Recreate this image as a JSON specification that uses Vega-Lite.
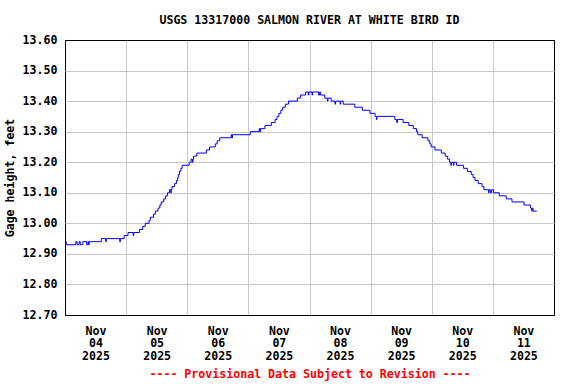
{
  "$schema": "https://vega.github.io/schema/vega-lite/v6.json",
  "width": 489,
  "height": 275,
  "autosize": {"type": "none"},
  "padding": {"left": 65, "top": 40, "right": 22, "bottom": 69},
  "background": "white",
  "config": {
    "font": "DejaVu Sans Mono",
    "view": {"stroke": "black", "strokeWidth": 1}
  },
  "title": {
    "text": "USGS 13317000 SALMON RIVER AT WHITE BIRD ID",
    "font": "DejaVu Sans Mono",
    "fontSize": 11.6,
    "fontWeight": "bold",
    "color": "black",
    "anchor": "middle",
    "frame": "group",
    "baseline": "alphabetic",
    "offset": -2
  },
  "data": {
    "values": [
      {"t": "2025-11-04T00:00", "v": 12.94},
      {"t": "2025-11-04T00:30", "v": 12.93},
      {"t": "2025-11-04T04:15", "v": 12.94},
      {"t": "2025-11-04T04:45", "v": 12.93},
      {"t": "2025-11-04T05:30", "v": 12.94},
      {"t": "2025-11-04T06:00", "v": 12.93},
      {"t": "2025-11-04T07:00", "v": 12.94},
      {"t": "2025-11-04T08:30", "v": 12.93},
      {"t": "2025-11-04T09:00", "v": 12.94},
      {"t": "2025-11-04T09:15", "v": 12.93},
      {"t": "2025-11-04T09:30", "v": 12.94},
      {"t": "2025-11-04T14:15", "v": 12.95},
      {"t": "2025-11-04T16:00", "v": 12.94},
      {"t": "2025-11-04T16:15", "v": 12.95},
      {"t": "2025-11-04T21:30", "v": 12.94},
      {"t": "2025-11-04T21:45", "v": 12.95},
      {"t": "2025-11-04T23:15", "v": 12.96},
      {"t": "2025-11-05T00:45", "v": 12.97},
      {"t": "2025-11-05T02:45", "v": 12.96},
      {"t": "2025-11-05T03:00", "v": 12.97},
      {"t": "2025-11-05T05:15", "v": 12.98},
      {"t": "2025-11-05T06:30", "v": 12.99},
      {"t": "2025-11-05T07:30", "v": 13.00},
      {"t": "2025-11-05T09:00", "v": 13.01},
      {"t": "2025-11-05T09:30", "v": 13.02},
      {"t": "2025-11-05T10:45", "v": 13.03},
      {"t": "2025-11-05T11:30", "v": 13.04},
      {"t": "2025-11-05T12:30", "v": 13.05},
      {"t": "2025-11-05T13:15", "v": 13.06},
      {"t": "2025-11-05T13:45", "v": 13.07},
      {"t": "2025-11-05T14:45", "v": 13.08},
      {"t": "2025-11-05T15:30", "v": 13.09},
      {"t": "2025-11-05T16:15", "v": 13.10},
      {"t": "2025-11-05T17:00", "v": 13.11},
      {"t": "2025-11-05T17:30", "v": 13.10},
      {"t": "2025-11-05T17:45", "v": 13.11},
      {"t": "2025-11-05T18:00", "v": 13.12},
      {"t": "2025-11-05T19:00", "v": 13.13},
      {"t": "2025-11-05T19:45", "v": 13.14},
      {"t": "2025-11-05T20:15", "v": 13.15},
      {"t": "2025-11-05T20:30", "v": 13.16},
      {"t": "2025-11-05T21:00", "v": 13.17},
      {"t": "2025-11-05T21:30", "v": 13.18},
      {"t": "2025-11-05T22:00", "v": 13.19},
      {"t": "2025-11-06T00:45", "v": 13.20},
      {"t": "2025-11-06T01:30", "v": 13.21},
      {"t": "2025-11-06T02:00", "v": 13.20},
      {"t": "2025-11-06T02:15", "v": 13.21},
      {"t": "2025-11-06T02:30", "v": 13.22},
      {"t": "2025-11-06T03:45", "v": 13.23},
      {"t": "2025-11-06T07:30", "v": 13.24},
      {"t": "2025-11-06T08:45", "v": 13.25},
      {"t": "2025-11-06T11:00", "v": 13.26},
      {"t": "2025-11-06T11:45", "v": 13.27},
      {"t": "2025-11-06T12:45", "v": 13.28},
      {"t": "2025-11-06T17:15", "v": 13.29},
      {"t": "2025-11-06T17:30", "v": 13.28},
      {"t": "2025-11-06T17:45", "v": 13.29},
      {"t": "2025-11-07T00:45", "v": 13.30},
      {"t": "2025-11-07T04:15", "v": 13.31},
      {"t": "2025-11-07T04:30", "v": 13.30},
      {"t": "2025-11-07T04:45", "v": 13.31},
      {"t": "2025-11-07T06:30", "v": 13.32},
      {"t": "2025-11-07T09:00", "v": 13.33},
      {"t": "2025-11-07T10:30", "v": 13.34},
      {"t": "2025-11-07T11:15", "v": 13.35},
      {"t": "2025-11-07T12:00", "v": 13.36},
      {"t": "2025-11-07T12:45", "v": 13.37},
      {"t": "2025-11-07T13:30", "v": 13.38},
      {"t": "2025-11-07T14:30", "v": 13.39},
      {"t": "2025-11-07T15:45", "v": 13.40},
      {"t": "2025-11-07T19:15", "v": 13.41},
      {"t": "2025-11-07T20:30", "v": 13.42},
      {"t": "2025-11-07T22:30", "v": 13.43},
      {"t": "2025-11-07T23:30", "v": 13.42},
      {"t": "2025-11-07T23:45", "v": 13.43},
      {"t": "2025-11-08T01:00", "v": 13.42},
      {"t": "2025-11-08T01:15", "v": 13.43},
      {"t": "2025-11-08T03:30", "v": 13.42},
      {"t": "2025-11-08T04:00", "v": 13.43},
      {"t": "2025-11-08T04:15", "v": 13.42},
      {"t": "2025-11-08T06:00", "v": 13.41},
      {"t": "2025-11-08T07:00", "v": 13.40},
      {"t": "2025-11-08T07:15", "v": 13.41},
      {"t": "2025-11-08T08:30", "v": 13.40},
      {"t": "2025-11-08T10:00", "v": 13.39},
      {"t": "2025-11-08T10:15", "v": 13.40},
      {"t": "2025-11-08T12:00", "v": 13.39},
      {"t": "2025-11-08T12:15", "v": 13.40},
      {"t": "2025-11-08T13:15", "v": 13.39},
      {"t": "2025-11-08T17:45", "v": 13.38},
      {"t": "2025-11-08T20:45", "v": 13.37},
      {"t": "2025-11-08T23:45", "v": 13.36},
      {"t": "2025-11-09T01:45", "v": 13.35},
      {"t": "2025-11-09T02:15", "v": 13.34},
      {"t": "2025-11-09T02:30", "v": 13.35},
      {"t": "2025-11-09T09:30", "v": 13.34},
      {"t": "2025-11-09T10:15", "v": 13.33},
      {"t": "2025-11-09T10:30", "v": 13.34},
      {"t": "2025-11-09T12:45", "v": 13.33},
      {"t": "2025-11-09T15:00", "v": 13.32},
      {"t": "2025-11-09T16:45", "v": 13.31},
      {"t": "2025-11-09T18:00", "v": 13.30},
      {"t": "2025-11-09T18:30", "v": 13.29},
      {"t": "2025-11-09T20:15", "v": 13.28},
      {"t": "2025-11-09T22:30", "v": 13.27},
      {"t": "2025-11-09T23:15", "v": 13.26},
      {"t": "2025-11-09T23:45", "v": 13.25},
      {"t": "2025-11-10T01:15", "v": 13.24},
      {"t": "2025-11-10T03:45", "v": 13.23},
      {"t": "2025-11-10T05:15", "v": 13.22},
      {"t": "2025-11-10T06:15", "v": 13.21},
      {"t": "2025-11-10T07:00", "v": 13.20},
      {"t": "2025-11-10T07:30", "v": 13.19},
      {"t": "2025-11-10T07:45", "v": 13.20},
      {"t": "2025-11-10T08:30", "v": 13.19},
      {"t": "2025-11-10T08:45", "v": 13.20},
      {"t": "2025-11-10T09:45", "v": 13.19},
      {"t": "2025-11-10T12:30", "v": 13.18},
      {"t": "2025-11-10T14:00", "v": 13.17},
      {"t": "2025-11-10T15:30", "v": 13.16},
      {"t": "2025-11-10T16:15", "v": 13.15},
      {"t": "2025-11-10T17:00", "v": 13.14},
      {"t": "2025-11-10T18:15", "v": 13.13},
      {"t": "2025-11-10T19:45", "v": 13.12},
      {"t": "2025-11-10T20:30", "v": 13.11},
      {"t": "2025-11-10T22:15", "v": 13.10},
      {"t": "2025-11-10T22:30", "v": 13.11},
      {"t": "2025-11-10T23:00", "v": 13.10},
      {"t": "2025-11-10T23:30", "v": 13.11},
      {"t": "2025-11-11T00:15", "v": 13.10},
      {"t": "2025-11-11T02:30", "v": 13.09},
      {"t": "2025-11-11T05:15", "v": 13.08},
      {"t": "2025-11-11T07:30", "v": 13.07},
      {"t": "2025-11-11T12:15", "v": 13.06},
      {"t": "2025-11-11T14:45", "v": 13.05},
      {"t": "2025-11-11T15:15", "v": 13.04},
      {"t": "2025-11-11T15:30", "v": 13.05},
      {"t": "2025-11-11T15:45", "v": 13.04},
      {"t": "2025-11-11T17:15", "v": 13.04}
    ]
  },
  "mark": {"type": "line", "interpolate": "step-after", "color": "#0000ff", "strokeWidth": 1},
  "encoding": {
    "x": {
      "field": "t",
      "type": "temporal",
      "scale": {"domain": [{"year": 2025, "month": 11, "date": 4}, {"year": 2025, "month": 11, "date": 12}]},
      "axis": {
        "values": [
          {"year": 2025, "month": 11, "date": 4},
          {"year": 2025, "month": 11, "date": 5},
          {"year": 2025, "month": 11, "date": 6},
          {"year": 2025, "month": 11, "date": 7},
          {"year": 2025, "month": 11, "date": 8},
          {"year": 2025, "month": 11, "date": 9},
          {"year": 2025, "month": 11, "date": 10},
          {"year": 2025, "month": 11, "date": 11}
        ],
        "labelExpr": "[timeFormat(datum.value, '%b'), timeFormat(datum.value, '%d'), timeFormat(datum.value, '%Y')]",
        "labelOffset": 30.5,
        "labelAlign": "center",
        "labelBaseline": "top",
        "labelLineHeight": 12.7,
        "labelPadding": 10,
        "labelFont": "DejaVu Sans Mono",
        "labelFontWeight": "bold",
        "labelFontSize": 11.6,
        "labelColor": "black",
        "labelOverlap": false,
        "labelFlush": false,
        "labelBound": false,
        "ticks": false,
        "tickSize": 0,
        "domain": false,
        "grid": true,
        "gridColor": {"condition": {"test": "timeFormat(datum.value, '%d') == '04'", "value": "black"}, "value": "#c8c8c8"},
        "gridWidth": 1,
        "title": "---- Provisional Data Subject to Revision ----",
        "titleColor": "#ff0000",
        "titleFont": "DejaVu Sans Mono",
        "titleFontSize": 11.6,
        "titleFontWeight": "bold",
        "titlePadding": 6
      }
    },
    "y": {
      "field": "v",
      "type": "quantitative",
      "scale": {"domain": [12.7, 13.6], "nice": false, "zero": false},
      "axis": {
        "values": [12.7, 12.8, 12.9, 13.0, 13.1, 13.2, 13.3, 13.4, 13.5, 13.6],
        "format": ".2f",
        "labelFont": "DejaVu Sans Mono",
        "labelFontWeight": "bold",
        "labelFontSize": 11.6,
        "labelColor": "black",
        "labelPadding": 8,
        "labelOverlap": false,
        "labelFlush": false,
        "ticks": false,
        "tickSize": 0,
        "domain": false,
        "grid": true,
        "gridColor": {"condition": {"test": "datum.value < 12.75 || datum.value > 13.55", "value": "black"}, "value": "#c8c8c8"},
        "gridWidth": 1,
        "title": "Gage height, feet",
        "titleColor": "black",
        "titleFont": "DejaVu Sans Mono",
        "titleFontSize": 11.6,
        "titleFontWeight": "bold",
        "titlePadding": 7
      }
    }
  }
}
